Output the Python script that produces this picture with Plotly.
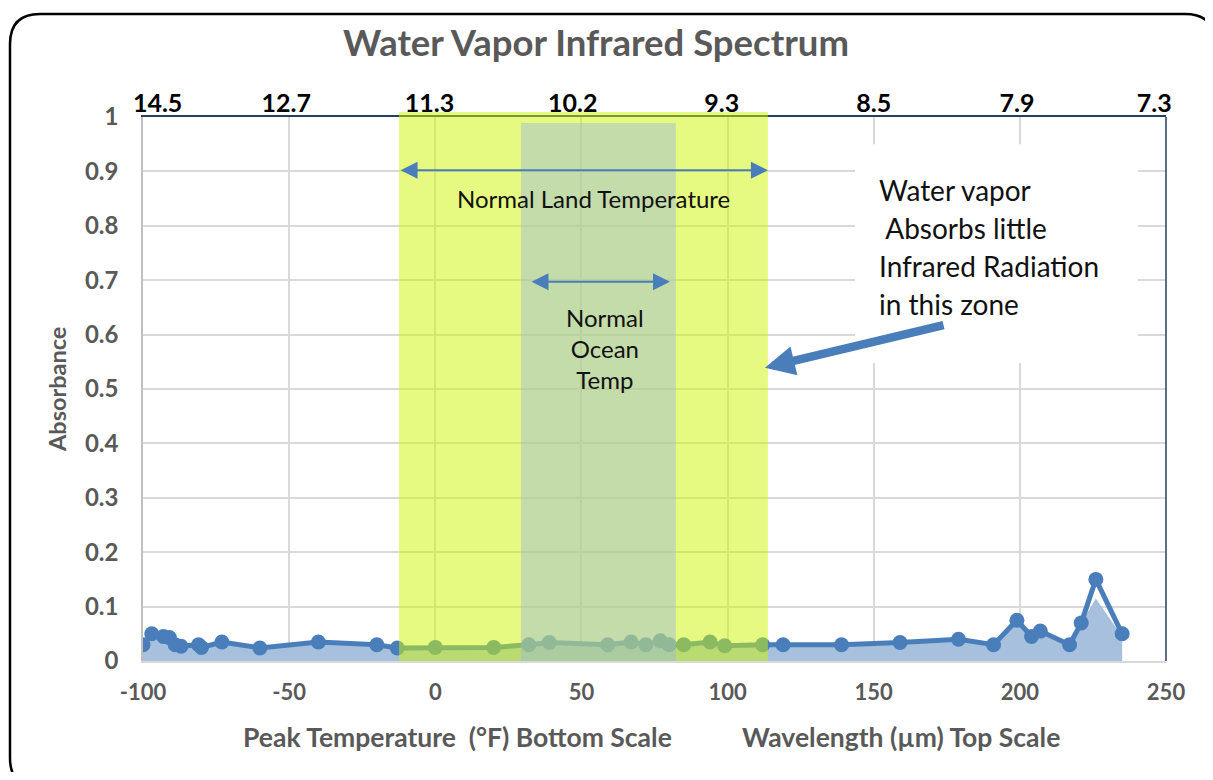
import plotly.graph_objects as go

# ---------------- data ----------------
temp_f = [-100, -97, -93, -91, -89, -87, -81, -80, -73, -60, -40, -20, -13, 0, 20,
          32, 39, 59, 67, 72, 77, 80, 85, 94, 99, 112, 119, 139, 159, 179, 191,
          199, 204, 207, 217, 221, 226, 235]
absorbance = [0.030, 0.050, 0.045, 0.043, 0.030, 0.027, 0.030, 0.025, 0.035, 0.024,
              0.035, 0.030, 0.024, 0.025, 0.025, 0.030, 0.034, 0.030, 0.035, 0.030,
              0.037, 0.030, 0.030, 0.035, 0.028, 0.030, 0.030, 0.030, 0.034, 0.040,
              0.030, 0.075, 0.045, 0.055, 0.030, 0.070, 0.150, 0.050]
area_absorbance = [0.030, 0.050, 0.045, 0.043, 0.030, 0.027, 0.030, 0.025, 0.035, 0.024,
                   0.035, 0.030, 0.024, 0.025, 0.025, 0.030, 0.034, 0.030, 0.035, 0.030,
                   0.037, 0.030, 0.030, 0.035, 0.028, 0.030, 0.030, 0.030, 0.034, 0.040,
                   0.030, 0.075, 0.045, 0.055, 0.030, 0.070, 0.115, 0.045]

bottom_ticks = [-100, -50, 0, 50, 100, 150, 200, 250]
bottom_labels = ["-100", "-50", "0", "50", "100", "150", "200", "250"]
wavelength_labels = ["14.5", "12.7", "11.3", "10.2", "9.3", "8.5", "7.9", "7.3"]

land_range = [-12.4, 113.8]
ocean_range = [29.3, 82.3]

# ---------------- styling ----------------
FONT = "Lato"
GRAY = "#595959"
BLUE = "#4A7EBB"
FILL = "#A7C0DE"
NAVY = "#243F60"

OFF = 8  # page body margin (all sides)
W, H = 1213 - 2 * OFF, 780 - 2 * OFF
L, T = 143 - OFF, 117 - OFF
R = (1213 - OFF) - 1166
B = (780 - OFF) - 661
PW, PH = W - L - R, H - T - B
PLOT_BOTTOM = 661  # reference page pixel of y=0


def px(x):
    return (x - 143) / PW


def py(y):
    return (PLOT_BOTTOM - y) / PH


fig = go.Figure()

fig.add_trace(go.Scatter(
    x=temp_f, y=area_absorbance, mode="lines", fill="tozeroy",
    fillcolor=FILL, line=dict(width=0, color=FILL), hoverinfo="skip",
    showlegend=False))
fig.add_trace(go.Scatter(
    x=temp_f, y=absorbance, mode="lines+markers",
    line=dict(color=BLUE, width=5), marker=dict(color=BLUE, size=15),
    showlegend=False))
# invisible trace to activate the top axis
fig.add_trace(go.Scatter(x=[bottom_ticks[0], bottom_ticks[-1]], y=[None, None],
                         xaxis="x2", showlegend=False, hoverinfo="skip"))

shapes = []
# white box behind the note (hides gridlines)
shapes.append(dict(type="rect", xref="x", yref="y", x0=143.6, x1=240.4, y0=0.548, y1=0.95,
                   fillcolor="white", line=dict(width=0), layer="between"))
# bands
shapes.append(dict(type="rect", xref="x", yref="paper", x0=land_range[0], x1=land_range[1],
                   y0=0, y1=1.009, fillcolor="rgba(205,245,5,0.5)", line=dict(width=0),
                   layer="above"))
shapes.append(dict(type="rect", xref="x", yref="paper", x0=ocean_range[0], x1=ocean_range[1],
                   y0=0, y1=0.989, fillcolor="rgba(154,183,219,0.45)", line=dict(width=0),
                   layer="above"))
# right border of plot
shapes.append(dict(type="line", xref="paper", yref="paper", x0=1, x1=1, y0=0, y1=1,
                   line=dict(color=NAVY, width=1.5), layer="above"))

# outer border: open path (top edge with rounded corners, left edge, bottom-left corner)
x0, x1, y0, y1, r = 10, 1215, 14, 788, 30


def P(x, y):
    return f"{px(x):.5f},{py(y):.5f}"


path = (f"M{P(x1, y0 + r)} Q{P(x1, y0)} {P(x1 - r, y0)} "
        f"L{P(x0 + r, y0)} Q{P(x0, y0)} {P(x0, y0 + r)} "
        f"L{P(x0, y1 - r)} Q{P(x0, y1)} {P(x0 + r, y1)}")
shapes.append(dict(type="path", xref="paper", yref="paper", path=path,
                   line=dict(color="black", width=2.5), layer="above"))

annotations = []
# arrows
annotations.append(dict(x=land_range[1], y=0.902, ax=land_range[0], ay=0.902,
                        xref="x", yref="y", axref="x", ayref="y", text="",
                        showarrow=True, arrowside="end+start", arrowhead=2,
                        startarrowhead=2, arrowwidth=2, arrowsize=1.7,
                        startarrowsize=1.7, arrowcolor=BLUE, standoff=0, startstandoff=0))
annotations.append(dict(x=80.3, y=0.697, ax=32.4, ay=0.697,
                        xref="x", yref="y", axref="x", ayref="y", text="",
                        showarrow=True, arrowside="end+start", arrowhead=2,
                        startarrowhead=2, arrowwidth=2, arrowsize=1.7,
                        startarrowsize=1.7, arrowcolor=BLUE, standoff=0, startstandoff=0))
annotations.append(dict(x=112.8, y=0.539, ax=174.4, ay=0.618,
                        xref="x", yref="y", axref="x", ayref="y", text="",
                        showarrow=True, arrowhead=2, arrowwidth=8.5, arrowsize=0.7,
                        arrowcolor=BLUE, standoff=0))
# texts
annotations.append(dict(x=54, y=0.851, xref="x", yref="y", text="Normal Land Temperature",
                        showarrow=False, xanchor="center", yanchor="middle",
                        font=dict(family=FONT, size=24, color="#111111")))
annotations.append(dict(x=58, y=0.574, xref="x", yref="y", text="Normal<br>Ocean<br>Temp",
                        showarrow=False, xanchor="center", yanchor="middle",
                        font=dict(family=FONT, size=24, color="#111111")))
for i, line in enumerate(["Water vapor", "\u00a0Absorbs little", "Infrared Radiation",
                          "in this zone"]):
    annotations.append(dict(x=151.1, y=py(190 + 38 * i), xref="x", yref="paper",
                            text=line, showarrow=False, xanchor="left", yanchor="middle",
                            font=dict(family=FONT, size=28, color="#111111")))
# axis titles
annotations.append(dict(x=px(57), y=py(390), xref="paper", yref="paper", text="Absorbance",
                        textangle=-90, showarrow=False, xanchor="center", yanchor="middle",
                        font=dict(family=FONT, size=23.5, color=GRAY, weight="bold")))
annotations.append(dict(x=px(457), y=py(737), xref="paper", yref="paper",
                        text="Peak Temperature  (°F) Bottom Scale", showarrow=False,
                        xanchor="center", yanchor="middle",
                        font=dict(family=FONT, size=26.5, color=GRAY, weight="bold")))
annotations.append(dict(x=px(901), y=py(737), xref="paper", yref="paper",
                        text="Wavelength (µm) Top Scale", showarrow=False,
                        xanchor="center", yanchor="middle",
                        font=dict(family=FONT, size=26.5, color=GRAY, weight="bold")))

fig.update_layout(
    width=W, height=H,
    margin=dict(l=L, r=R, t=T, b=B),
    paper_bgcolor="white", plot_bgcolor="white",
    title=dict(text="Water Vapor Infrared Spectrum", x=(596 - OFF) / W, xref="container",
               xanchor="center", y=1 - (43 - OFF) / H, yref="container", yanchor="middle",
               font=dict(family=FONT, size=36.5, color=GRAY, weight="bold")),
    xaxis=dict(range=[bottom_ticks[0], bottom_ticks[-1]], tickvals=bottom_ticks,
               ticktext=bottom_labels, showgrid=True, gridcolor="#D9D9D9", gridwidth=1.5,
               showline=True, linecolor="#D9D9D9", linewidth=2, zeroline=False,
               ticks="", ticklabelstandoff=11,
               tickfont=dict(family=FONT, size=22, color=GRAY, weight="bold")),
    xaxis2=dict(range=[bottom_ticks[0], bottom_ticks[-1]], overlaying="x", side="top",
                tickvals=[-95, -51, -2, 47, 98, 150, 199, 246], ticktext=wavelength_labels,
                showgrid=False, showline=True, linecolor=NAVY, linewidth=1.5,
                zeroline=False, ticks="", ticklabelstandoff=-7,
                tickfont=dict(family=FONT, size=25, color="black", weight="bold")),
    yaxis=dict(range=[0, 1], dtick=0.1, tick0=0, showgrid=True, gridcolor="#D9D9D9",
               gridwidth=1.5, showline=True, linecolor="#BFBFBF", linewidth=1.5,
               zeroline=False, ticks="", ticklabelstandoff=18,
               tickfont=dict(family=FONT, size=24, color=GRAY, weight="bold")),
    shapes=shapes, annotations=annotations,
)

fig.write_html("out.html")
